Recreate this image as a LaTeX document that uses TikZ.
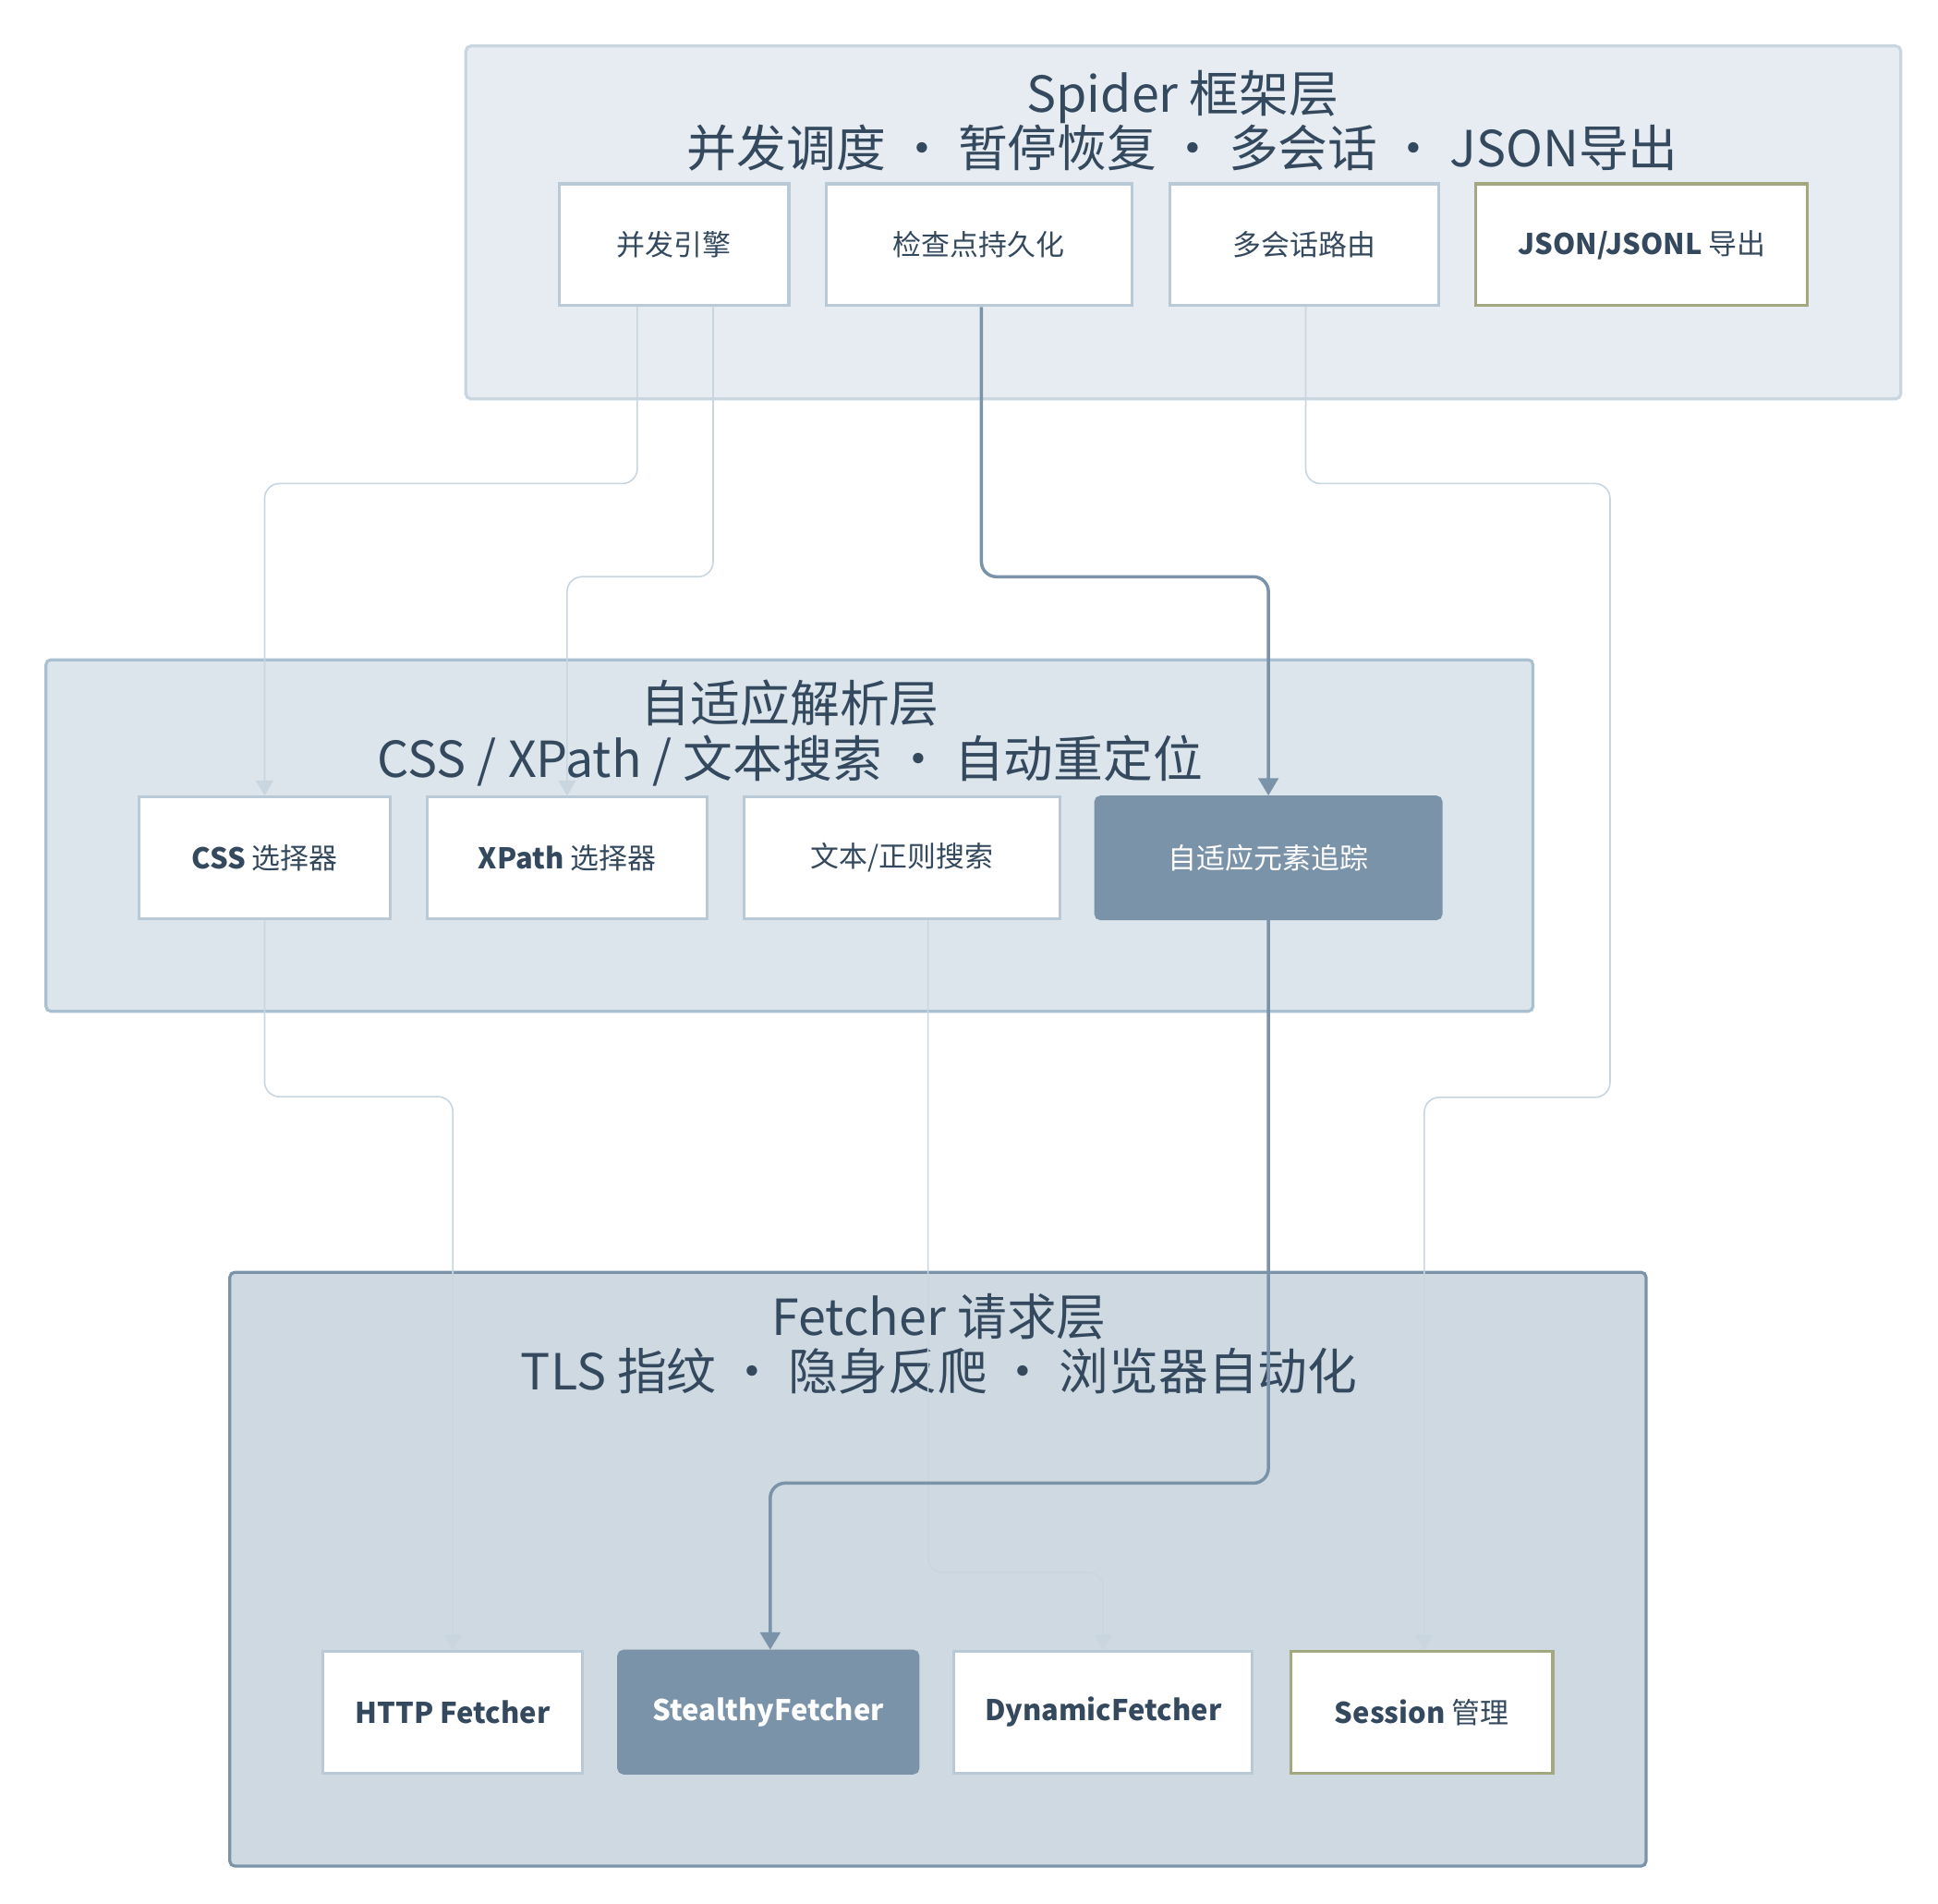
\documentclass[tikz,border=0pt]{standalone}
\usepackage{fontspec}
\setmainfont{Noto Sans CJK SC}
\usetikzlibrary{arrows.meta}
\definecolor{ink}{HTML}{34495E}
\definecolor{lite}{HTML}{C9D6E0}
\definecolor{dark}{HTML}{7B93A9}
\definecolor{olive}{HTML}{A3A87F}
\definecolor{g1}{HTML}{E6ECF1}
\definecolor{g2}{HTML}{DDE5EC}
\definecolor{g2s}{HTML}{A9C0D1}
\definecolor{g3}{HTML}{CFD9E2}
\begin{document}
\begin{tikzpicture}[x=0.5pt,y=-0.5pt,
 grp/.style={draw,rounded corners=2pt,line width=1.2pt},
 ttl/.style={text=ink,font=\fontsize{20}{24}\selectfont,align=center},
 box/.style={draw=lite!80!dark,fill=white,line width=1.2pt,minimum height=49pt,text=ink,font=\fontsize{11.5}{14}\selectfont,inner sep=0pt},
 hot/.style={box,draw=dark,fill=dark,text=white,rounded corners=2pt},
 ol/.style={box,draw=olive},
 le/.style={draw=lite,line width=0.6pt,rounded corners=6pt,-{Triangle[length=6pt,width=7pt]}},
 de/.style={draw=dark,line width=1.3pt,rounded corners=6pt,-{Triangle[length=7pt,width=8pt]}}]
\useasboundingbox (0,0) rectangle (1560,1532);
\draw[grp,fill=g1,draw=lite] (375,37) rectangle (1530,321);
\draw[grp,fill=g2,draw=g2s] (37,531) rectangle (1234,814);
\draw[grp,fill=g3,draw=dark] (185,1024) rectangle (1325,1502);
\node[ttl] (t1) at (952,97) {Spider 框架层\\[-2pt]并发调度 · 暂停恢复 · 多会话 · JSON导出};
\node[ttl] (t2) at (636,590) {自适应解析层\\[-2pt]CSS / XPath / 文本搜索 · 自动重定位};
\node[ttl] (t3) at (756,1082) {Fetcher 请求层\\[-2pt]TLS 指纹 · 隐身反爬 · 浏览器自动化};
\node[box,minimum width=92.5pt] (eng) at (542.5,197) {并发引擎};
\node[box,minimum width=123pt] (chk) at (788,197) {检查点持久化};
\node[box,minimum width=108pt] (mul) at (1050,197) {多会话路由};
\node[ol,minimum width=133.5pt] (json) at (1321.5,197) {\textbf{JSON/JSONL} 导出};
\node[box,minimum width=101pt] (css) at (213,690.5) {\textbf{CSS} 选择器};
\node[box,minimum width=112.5pt] (xp) at (456.5,690.5) {\textbf{XPath} 选择器};
\node[box,minimum width=127pt] (txt) at (726,690.5) {文本/正则搜索};
\node[hot,minimum width=139pt] (ada) at (1021,690.5) {自适应元素追踪};
\node[box,minimum width=104.5pt] (http) at (364.5,1378) {\textbf{HTTP Fetcher}};
\node[hot,minimum width=120.5pt] (st) at (618.5,1378) {\textbf{StealthyFetcher}};
\node[box,minimum width=120pt] (dyn) at (888,1378) {\textbf{DynamicFetcher}};
\node[ol,minimum width=105.5pt] (ses) at (1144.5,1378) {\textbf{Session} 管理};
\draw[le] ([xshift=-14.75pt]eng.south) -- ++(0,142) -| (css.north);
\draw[le] ([xshift=15.75pt]eng.south) -- ++(0,217) -| (xp.north);
\draw[le] ([xshift=0.5pt]mul.south) -- ++(0,142) -- ++(245,0) -- ++(0,494) -| ([xshift=1pt]ses.north);
\draw[le] (css.south) -- ++(0,142) -| (http.north);
\draw[le] ([xshift=10.5pt]txt.south) -- ++(0,525) -| (dyn.north);
\draw[de] ([xshift=1pt]chk.south) -- ++(0,217) -| (ada.north);
\draw[de] (ada.south) -- ++(0,453) -| ([xshift=0.75pt]st.north);
\end{tikzpicture}
\end{document}
